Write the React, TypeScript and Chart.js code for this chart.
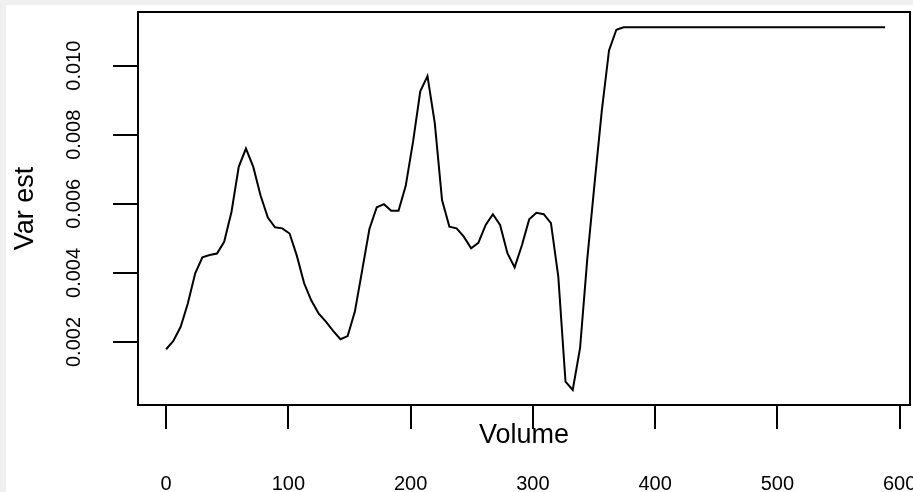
import { useEffect, useRef } from "react";
import { Chart, registerables } from "chart.js";

Chart.register(...registerables);

const volume = [
  0, 5.9, 11.9, 17.8, 23.8, 29.7, 35.6, 41.6, 47.5, 53.5,
  59.4, 65.3, 71.3, 77.2, 83.2, 89.1, 95.0, 101.0, 106.9, 112.9,
  118.8, 124.7, 130.7, 136.6, 142.6, 148.5, 154.4, 160.4, 166.3, 172.3,
  178.2, 184.1, 190.1, 196.0, 202.0, 207.9, 213.8, 219.8, 225.7, 231.7,
  237.6, 243.5, 249.5, 255.4, 261.4, 267.3, 273.2, 279.2, 285.1, 291.1,
  297.0, 302.9, 308.9, 314.8, 320.8, 326.7, 332.6, 338.6, 344.5, 350.5,
  356.4, 362.3, 368.3, 374.2, 380.2, 386.1, 392.0, 398.0, 403.9, 409.9,
  415.8, 421.7, 427.7, 433.6, 439.6, 445.5, 451.4, 457.4, 463.3, 469.3,
  475.2, 481.1, 487.1, 493.0, 499.0, 504.9, 510.8, 516.8, 522.7, 528.7,
  534.6, 540.5, 546.5, 552.4, 558.4, 564.3, 570.2, 576.2, 582.1, 588.1,
];

const varEst = [
  0.00179, 0.00203, 0.00244, 0.00312, 0.00399, 0.00445, 0.00452, 0.00456, 0.0049, 0.00577,
  0.00707, 0.0076, 0.00707, 0.00625, 0.0056, 0.00532, 0.00529, 0.00514, 0.0045, 0.0037,
  0.0032, 0.00283, 0.00259, 0.00232, 0.00208, 0.00217, 0.00288, 0.00408, 0.00527, 0.0059,
  0.00599, 0.0058, 0.0058, 0.00652, 0.0078, 0.00926, 0.0097, 0.00833, 0.00611, 0.00534,
  0.00529, 0.00505, 0.00471, 0.00487, 0.00539, 0.0057, 0.00539, 0.00457, 0.00416, 0.00481,
  0.00555, 0.00574, 0.0057, 0.00544, 0.00389, 0.00085, 0.00061, 0.00182, 0.0044, 0.0066,
  0.0087, 0.01044, 0.01104, 0.01111, 0.01111, 0.01111, 0.01111, 0.01111, 0.01111, 0.01111,
  0.01111, 0.01111, 0.01111, 0.01111, 0.01111, 0.01111, 0.01111, 0.01111, 0.01111, 0.01111,
  0.01111, 0.01111, 0.01111, 0.01111, 0.01111, 0.01111, 0.01111, 0.01111, 0.01111, 0.01111,
  0.01111, 0.01111, 0.01111, 0.01111, 0.01111, 0.01111, 0.01111, 0.01111, 0.01111, 0.01111,
];

const xTickValues = [0, 100, 200, 300, 400, 500, 600];
const xTickLabels = ["0", "100", "200", "300", "400", "500", "600"];
const yTickValues = [0.002, 0.004, 0.006, 0.008, 0.01];
const yTickLabels = ["0.002", "0.004", "0.006", "0.008", "0.010"];
const xTitle = "Volume";
const yTitle = "Var est";

const FONT = "'Liberation Sans', Arial, Helvetica, sans-serif";

const rAxesPlugin = {
  id: "rAxes",
  afterDraw(chart: any) {
    const { ctx, chartArea: a, scales } = chart;
    ctx.save();
    ctx.strokeStyle = "#000";
    ctx.lineWidth = 2;
    ctx.strokeRect(a.left, a.top, a.right - a.left, a.bottom - a.top);

    ctx.beginPath();
    xTickValues.forEach((v) => {
      const px = Math.round(scales.x.getPixelForValue(v));
      ctx.moveTo(px, a.bottom);
      ctx.lineTo(px, a.bottom + 24);
    });
    yTickValues.forEach((v) => {
      const py = Math.round(scales.y.getPixelForValue(v));
      ctx.moveTo(a.left, py);
      ctx.lineTo(a.left - 25, py);
    });
    ctx.stroke();

    ctx.fillStyle = "#000";
    ctx.textBaseline = "alphabetic";
    ctx.textAlign = "center";
    ctx.font = `20px ${FONT}`;
    xTickValues.forEach((v, i) => {
      const px = scales.x.getPixelForValue(v);
      ctx.fillText(xTickLabels[i], px, a.bottom + 85);
    });
    yTickValues.forEach((v, i) => {
      const py = scales.y.getPixelForValue(v);
      ctx.save();
      ctx.translate(a.left - 58, py);
      ctx.rotate(-Math.PI / 2);
      ctx.fillText(yTickLabels[i], 0, 0);
      ctx.restore();
    });

    ctx.font = `27px ${FONT}`;
    ctx.fillText(xTitle, (a.left + a.right) / 2, a.bottom + 38);
    ctx.save();
    ctx.translate(a.left - 105, (a.top + a.bottom) / 2);
    ctx.rotate(-Math.PI / 2);
    ctx.fillText(yTitle, 0, 0);
    ctx.restore();

    ctx.restore();
  },
};

export default function App() {
  const ref = useRef<HTMLCanvasElement | null>(null);

  useEffect(() => {
    if (!ref.current) return;
    const points = volume.map((x, i) => ({ x, y: varEst[i] }));
    const chart = new Chart(ref.current, {
      type: "line",
      data: {
        datasets: [
          {
            data: points,
            borderColor: "#000",
            borderWidth: 2,
            pointRadius: 0,
            tension: 0,
            fill: false,
          },
        ],
      },
      options: {
        animation: false,
        responsive: false,
        layout: { padding: { left: 132, top: 7, right: 3, bottom: 87 } },
        plugins: { legend: { display: false }, tooltip: { enabled: false } },
        scales: {
          x: { type: "linear", min: -23, max: 608.5, display: false },
          y: { type: "linear", min: 0.000176, max: 0.011554, display: false },
        },
      },
      plugins: [rAxesPlugin],
    });
    return () => chart.destroy();
  }, []);

  return (
    <div
      style={{
        position: "fixed",
        left: 0,
        top: 0,
        width: 913,
        height: 492,
        background: "#f0f0f0",
        overflow: "hidden",
      }}
    >
      <canvas
        ref={ref}
        width={907}
        height={487}
        style={{ position: "absolute", left: 6, top: 5, width: 907, height: 487, background: "#fff" }}
      />
    </div>
  );
}
